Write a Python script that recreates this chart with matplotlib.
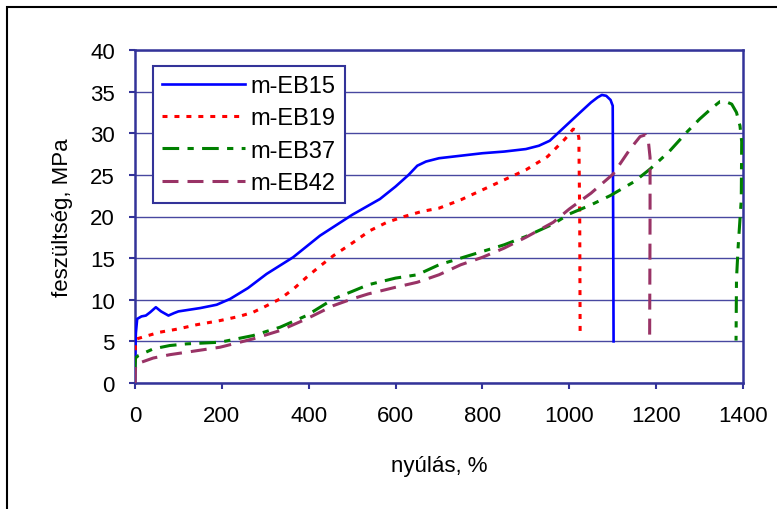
import numpy as np
import matplotlib.pyplot as plt
from matplotlib.patches import Rectangle

plt.rcParams['font.family'] = ['Liberation Sans', 'DejaVu Sans']
plt.rcParams['lines.scale_dashes'] = False

# ---- adatok (leolvasva) ----
eb15_x = [0, 2, 5, 15, 25, 35, 48, 60, 77, 90, 100, 150, 188, 219, 260, 303, 364, 426, 500, 564,
          600, 630, 650, 670, 700, 750, 800, 850, 900, 930, 955, 990, 1025, 1050, 1065, 1075, 1085,
          1095, 1100, 1101, 1102]
eb15_y = [2.5, 6.0, 7.7, 8.0, 8.1, 8.5, 9.1, 8.6, 8.1, 8.4, 8.6, 9.0, 9.4, 10.1, 11.4, 13.1, 15.1, 17.7, 20.2, 22.1,
          23.6, 25.0, 26.1, 26.6, 27.0, 27.3, 27.6, 27.8, 28.1, 28.5, 29.1, 30.8, 32.5, 33.7, 34.3, 34.6, 34.5,
          34.0, 33.3, 20.0, 5.0]

eb19_x = [0, 1, 4, 30, 57, 100, 142, 196, 240, 272, 300, 334, 365, 395, 425, 457, 500, 541, 580, 620,
          660, 700, 750, 800, 850, 900, 950, 990, 1009, 1018, 1022, 1024, 1025]
eb19_y = [2.5, 4.5, 5.3, 5.7, 6.1, 6.5, 7.0, 7.5, 8.0, 8.5, 9.2, 10.1, 11.3, 12.7, 14.0, 15.3, 16.8, 18.3, 19.3, 20.0,
          20.6, 21.0, 22.0, 23.2, 24.4, 25.6, 27.2, 29.3, 30.5, 30.3, 29.5, 20.0, 5.6]

eb37_x = [0, 1, 8, 42, 80, 119, 196, 272, 334, 395, 457, 500, 537, 600, 650, 700, 750, 800, 850, 900,
          963, 1000, 1050, 1094, 1150, 1186, 1230, 1270, 1300, 1330, 1347, 1360, 1374, 1385, 1393,
          1397, 1396, 1389, 1385, 1384]
eb37_y = [1.5, 3.0, 3.3, 4.1, 4.5, 4.7, 4.9, 5.7, 6.7, 8.1, 10.1, 11.0, 11.8, 12.6, 13.0, 14.2, 15.0, 15.8, 16.6, 17.6,
          19.1, 20.3, 21.4, 22.5, 24.2, 25.7, 27.8, 30.1, 31.7, 33.1, 33.8, 33.8, 33.5, 32.5, 30.9,
          29.0, 22.0, 16.5, 12.5, 5.1]

eb42_x = [0, 1, 4, 42, 80, 119, 196, 272, 334, 395, 457, 500, 537, 600, 650, 700, 750, 800, 850, 900,
          963, 1000, 1050, 1101, 1140, 1163, 1175, 1182, 1186, 1186, 1185]
eb42_y = [0.0, 1.8, 2.3, 3.0, 3.4, 3.7, 4.3, 5.3, 6.3, 7.7, 9.3, 10.1, 10.7, 11.5, 12.1, 13.0, 14.2, 15.1, 16.2, 17.5,
          19.3, 20.9, 22.8, 25.1, 28.1, 29.6, 29.8, 29.1, 27.1, 20.0, 5.1]

navy = '#333399'

fig = plt.figure(figsize=(7.77, 5.10), dpi=100)
ax = fig.add_axes([135/777, 1 - 384/510, (743-135)/777, (384-51)/510])

# keret az egesz abra korul
fig.patches.append(Rectangle((7/777, -0.1), 1.2, 1 - 8/510 + 0.1, transform=fig.transFigure,
                             fill=False, ec='black', lw=1.5))

ax.plot(eb15_x, eb15_y, color='#0000FF', lw=1.9, label='m-EB15', zorder=3)
ax.plot(eb19_x, eb19_y, color='#FF0000', lw=2.2, dashes=(3.6, 5), label='m-EB19', zorder=3)
ax.plot(eb37_x, eb37_y, color='#008000', lw=2.2, dashes=(12, 6, 4.5, 6), label='m-EB37', zorder=3)
ax.plot(eb42_x, eb42_y, color='#993366', lw=2.2, dashes=(11.5, 6.5), label='m-EB42', zorder=3)

ax.set_xlim(0, 1400)
ax.set_ylim(0, 40)
ax.set_xticks(np.arange(0, 1401, 200))
ax.set_yticks(np.arange(0, 41, 5))
ax.yaxis.grid(True, color='#4848A0', lw=1, zorder=0)
ax.set_axisbelow(True)

for s in ax.spines.values():
    s.set_color(navy)
    s.set_linewidth(1.8)

ax.tick_params(direction='out', length=4.5, width=1.5, color=navy, labelsize=16, labelcolor='black')
ax.tick_params(axis='x', pad=11)
ax.tick_params(axis='y', pad=10)

ax.set_xlabel('nyúlás, %', fontsize=16, labelpad=21)
ax.set_ylabel('feszültség, MPa', fontsize=16, labelpad=12)

leg = ax.legend(loc='upper left', bbox_to_anchor=(153/777, 1 - 67/510), bbox_transform=fig.transFigure,
                fontsize=17, fancybox=False, framealpha=1, edgecolor=navy, borderpad=0.38,
                labelspacing=0.44, handletextpad=0.25, handlelength=3.5, borderaxespad=0)
leg.get_frame().set_linewidth(1.5)

fig.savefig('out.png', dpi=100)
